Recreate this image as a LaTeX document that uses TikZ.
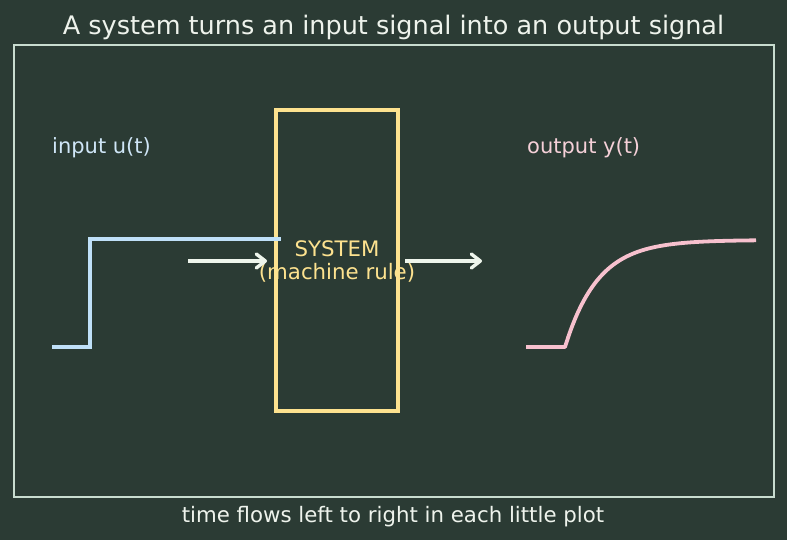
\documentclass[tikz,border=0pt]{standalone}
\usepackage{fontspec}
\setmainfont{DejaVu Sans}
\usetikzlibrary{arrows.meta}
\definecolor{bg}{HTML}{2B3B34}
\definecolor{framec}{HTML}{C8DCCF}
\definecolor{inc}{HTML}{BFE0F8}
\definecolor{inlab}{HTML}{CFE6F7}
\definecolor{outc}{HTML}{F7C1CE}
\definecolor{outlab}{HTML}{F5D0D8}
\definecolor{sysc}{HTML}{FDE28F}
\definecolor{arrc}{HTML}{EEF5EC}
\definecolor{txt}{HTML}{EEF3EC}
\tikzset{
  titletext/.style={text=txt, font=\fontsize{25.5}{28}\selectfont, inner sep=0pt},
  foottext/.style={text=txt, font=\fontsize{21.3}{24}\selectfont, inner sep=0pt},
  labeltext/.style={font=\fontsize{21}{24}\selectfont, inner sep=0pt, anchor=west},
  sysbox/.style={draw=sysc, line width=3.8pt, minimum width=122pt, minimum height=301pt, inner sep=0pt},
  systext/.style={text=sysc, font=\fontsize{21.3}{23}\selectfont, align=center, inner sep=0pt},
  flow/.style={draw=arrc, line width=3.6pt, -{Straight Barb[length=9pt, width=14pt, line width=3.4pt, round]}},
  sig/.style={line width=3.8pt, line join=miter}
}
\begin{document}
\begin{tikzpicture}[x=1pt, y=-1pt]
\fill[bg] (0,0) rectangle (787,540);
\useasboundingbox (0,0) rectangle (787,540);
\node[draw=framec, line width=1.5pt, minimum width=760pt, minimum height=452pt, inner sep=0pt] (frame) at (394,271) {};
\node[titletext] (title) at (393.5,27) {A system turns an input signal into an output signal};
\node[foottext] (foot) at (393,517) {time flows left to right in each little plot};
\node[labeltext, text=inlab] (inlabel) at (52,148) {input u(t)};
\node[labeltext, text=outlab] (outlabel) at (527,148) {output y(t)};
\node[sysbox] (sys) at (337,260.5) {};
\node[systext] (systxt) at (337,261.5) {SYSTEM\\(machine rule)};
\draw[sig, draw=inc] (52,347) -- (90,347) -- (90,239) -- (281,239);
\draw[sig, draw=outc, line join=round] (526,347) -- (565,347) -- plot[domain=565:756, samples=60, smooth] (\x, {347-107*(1-exp(-(\x-565)/33))});
\coordinate (a1s) at (188,261);
\coordinate (a1e) at (267,261);
\coordinate (a2s) at (405,261);
\coordinate (a2e) at (482,261);
\draw[flow] (a1s) -- (a1e);
\draw[flow] (a2s) -- (a2e);
\end{tikzpicture}
\end{document}
